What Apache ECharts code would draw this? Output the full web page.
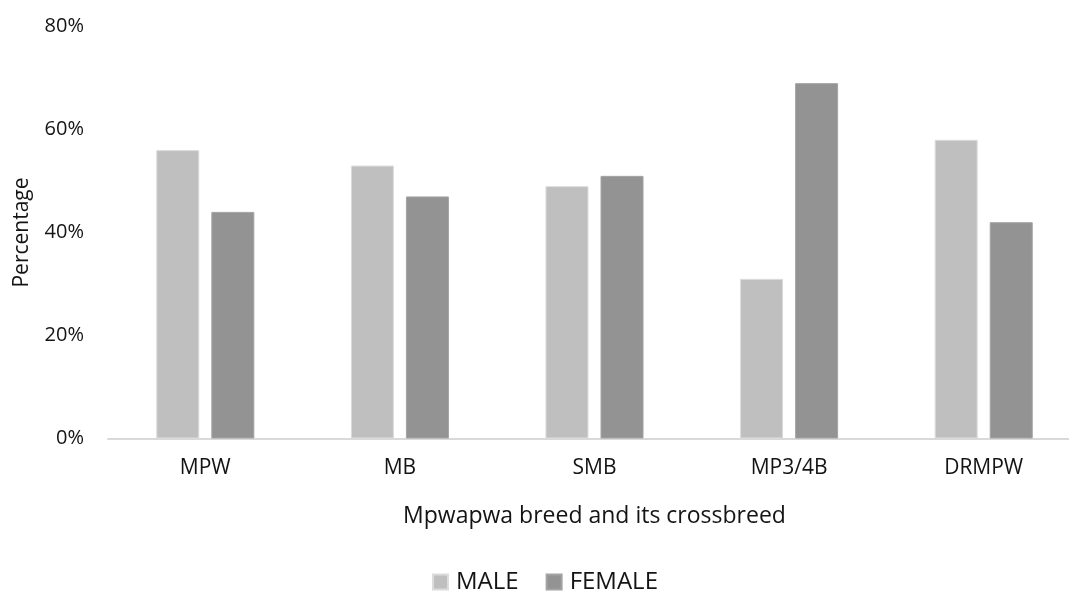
<!DOCTYPE html>
<html>
<head>
<meta charset="utf-8">
<script src="https://cdn.jsdelivr.net/npm/echarts@6/dist/echarts.min.js"></script>
<style>
  html, body { margin: 0; padding: 0; background: #fff; }
  #chart { width: 1069px; height: 592px; }
</style>
</head>
<body>
<div id="chart"></div>
<script>
// Sex distribution (%) of Mpwapwa cattle and its crossbreeds
const categories = ['MPW', 'MB', 'SMB', 'MP3/4B', 'DRMPW'];
const maleValues = [56, 53, 49, 31, 58];
const femaleValues = [44, 47, 51, 69, 42];
const seriesNames = ['MALE', 'FEMALE'];
const yTicks = { min: 0, max: 80, interval: 20 };

const FONT = '"Open Sans", "Noto Sans", sans-serif';
const TEXT = '#141414';

const chart = echarts.init(document.getElementById('chart'), null, { renderer: 'canvas' });

chart.setOption({
  animation: false,
  backgroundColor: '#ffffff',
  textStyle: { fontFamily: FONT, color: TEXT },
  grid: {
    left: 108, top: 26.5, width: 973, height: 412,
    containLabel: false, outerBoundsMode: 'none'
  },
  legend: {
    data: seriesNames,
    left: 427,
    top: 565,
    itemWidth: 15,
    itemHeight: 15,
    itemGap: 27,
    icon: 'rect',
    textStyle: { fontFamily: FONT, fontSize: 24, color: TEXT, padding: [0, 0, 0, 3] }
  },
  xAxis: {
    type: 'category',
    data: categories,
    name: 'Mpwapwa breed and its crossbreed',
    nameLocation: 'middle',
    nameGap: 66,
    nameTextStyle: { fontFamily: FONT, fontSize: 23, color: TEXT },
    axisLine: { show: true, lineStyle: { color: '#d9d9d9', width: 2 } },
    axisTick: { show: false },
    axisLabel: { fontFamily: FONT, fontSize: 21, color: TEXT, margin: 19 }
  },
  yAxis: {
    type: 'value',
    min: yTicks.min,
    max: yTicks.max,
    interval: yTicks.interval,
    name: 'Percentage',
    nameLocation: 'middle',
    nameRotate: 90,
    nameGap: 75,
    nameTextStyle: { fontFamily: FONT, fontSize: 21, color: TEXT },
    axisLine: { show: false },
    axisTick: { show: false },
    splitLine: { show: false },
    axisLabel: {
      fontFamily: FONT, fontSize: 20, color: TEXT, margin: 24,
      formatter: '{value}%'
    }
  },
  series: [
    {
      name: seriesNames[0],
      type: 'bar',
      data: maleValues,
      barWidth: 43,
      barGap: '28%',
      itemStyle: { color: '#bfbfbf', borderColor: '#dcdcdc', borderWidth: 1 }
    },
    {
      name: seriesNames[1],
      type: 'bar',
      data: femaleValues,
      barWidth: 43,
      barGap: '28%',
      itemStyle: { color: '#939393', borderColor: '#a3a3a3', borderWidth: 1 }
    }
  ]
});
</script>
</body>
</html>
